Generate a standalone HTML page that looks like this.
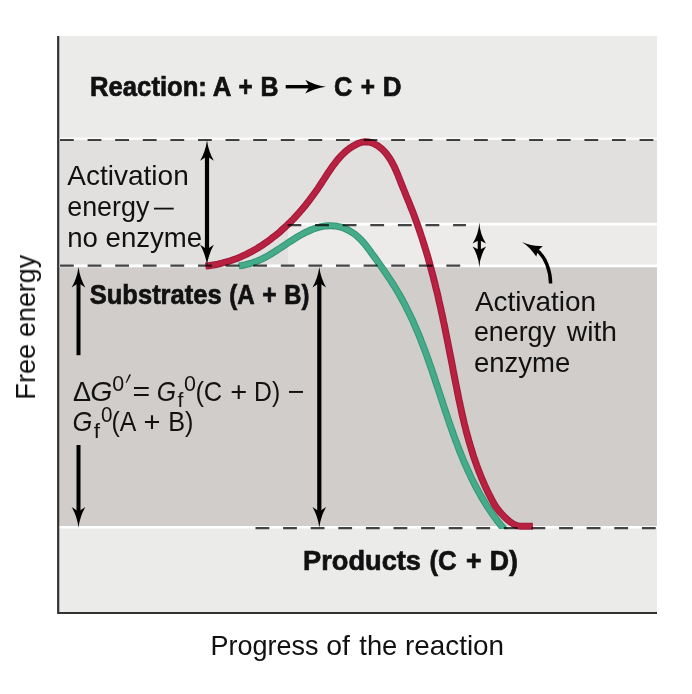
<!DOCTYPE html>
<html><head><meta charset="utf-8"><title>Reaction energy diagram</title>
<style>
html,body{margin:0;padding:0;background:#fff;}
svg{display:block;font-family:"Liberation Sans",sans-serif;fill:#111111;}
</style></head><body>
<svg width="692" height="694" viewBox="0 0 692 694">
<rect x="57" y="36" width="600" height="104" fill="#ebebea"/>
<rect x="57" y="139" width="600" height="127" fill="#e2e0df"/>
<rect x="288" y="224" width="369" height="42" fill="#ecebea"/>
<rect x="57" y="266" width="600" height="262" fill="#d1cdcb"/>
<rect x="57" y="527" width="600" height="86" fill="#ebebea"/>
<line x1="59" y1="138.7" x2="657" y2="138.7" stroke="#fff" stroke-width="2.6" stroke-opacity="0.8"/>
<line x1="288" y1="224.1" x2="657" y2="224.1" stroke="#fff" stroke-width="2.6" stroke-opacity="1"/>
<line x1="59" y1="265.9" x2="657" y2="265.9" stroke="#fff" stroke-width="2.6" stroke-opacity="1"/>
<line x1="59" y1="527.3" x2="657" y2="527.3" stroke="#fff" stroke-width="2.6" stroke-opacity="1"/>
<path d="M58.2 36V613H657" fill="none" stroke="#333333" stroke-width="2.2"/>
<clipPath id="gc"><rect x="0" y="0" width="692" height="528.9"/></clipPath><g clip-path="url(#gc)" fill="none" stroke-linejoin="round"><path d="M238.8 265.9L241.9 265.5L244.8 264.9L247.7 264.2L250.5 263.5L253.3 262.6L255.9 261.6L258.5 260.5L261.1 259.4L263.6 258.1L266.1 256.8L268.5 255.5L271.0 254.0L273.4 252.5L275.8 251.0L278.2 249.4L280.6 247.8L283.1 246.2L285.5 244.6L288.0 242.9L290.5 241.3L293.0 239.7L295.6 238.1L298.1 236.5L300.7 235.0L303.3 233.6L306.0 232.2L308.7 231.0L311.4 229.8L314.2 228.8L317.0 227.8L319.9 227.0L322.8 226.4L325.7 225.9L328.6 225.7L331.5 225.7L334.3 225.9L337.2 226.3L340.0 226.9L342.7 227.8L345.4 228.8L348.0 230.0L350.5 231.5L353.0 233.0L355.4 234.7L357.6 236.6L359.8 238.6L361.9 240.7L363.8 242.9L365.7 245.2L367.5 247.6L369.3 250.0L371.1 252.4L372.8 254.8L374.6 257.2L376.3 259.6L378.0 262.0L379.7 264.4L381.4 266.8L383.1 269.2L384.8 271.7L386.4 274.1L388.0 276.5L389.6 278.9L391.2 281.4L392.8 283.8L394.4 286.3L395.9 288.8L397.4 291.3L398.9 293.8L400.3 296.3L401.7 298.8L403.1 301.4L404.5 303.9L405.8 306.5L407.1 309.1L408.4 311.7L409.7 314.3L410.9 316.9L412.2 319.6L413.4 322.2L414.5 324.9L415.7 327.5L416.8 330.2L418.0 332.9L419.1 335.6L420.2 338.3L421.2 341.0L422.3 343.7L423.3 346.4L424.4 349.2L425.4 351.9L426.4 354.6L427.4 357.4L428.4 360.2L429.3 362.9L430.3 365.7L431.3 368.5L432.2 371.2L433.1 374.0L434.1 376.8L435.0 379.6L435.9 382.4L436.9 385.2L437.8 387.9L438.7 390.7L439.6 393.5L440.5 396.3L441.5 399.1L442.4 401.9L443.3 404.7L444.2 407.5L445.1 410.3L446.1 413.0L447.0 415.8L447.9 418.6L448.9 421.4L449.8 424.2L450.8 426.9L451.8 429.7L452.7 432.4L453.7 435.2L454.7 437.9L455.7 440.7L456.8 443.4L457.8 446.1L458.8 448.9L459.9 451.6L461.0 454.3L462.1 457.0L463.2 459.7L464.3 462.3L465.5 465.0L466.7 467.7L467.8 470.3L469.1 472.9L470.3 475.6L471.5 478.2L472.8 480.8L474.1 483.4L475.4 485.9L476.8 488.5L478.2 491.0L479.6 493.6L481.0 496.1L482.5 498.6L484.0 501.1L485.5 503.5L487.0 506.0L488.6 508.4L490.2 510.8L491.9 513.2L493.5 515.6L495.3 518.0L497.0 520.3L498.8 522.7L500.6 525.0L502.5 527.3L504.4 529.5L506.3 531.8" stroke="#35977a" stroke-width="7"/><path d="M238.8 265.9L241.9 265.5L244.8 264.9L247.7 264.2L250.5 263.5L253.3 262.6L255.9 261.6L258.5 260.5L261.1 259.4L263.6 258.1L266.1 256.8L268.5 255.5L271.0 254.0L273.4 252.5L275.8 251.0L278.2 249.4L280.6 247.8L283.1 246.2L285.5 244.6L288.0 242.9L290.5 241.3L293.0 239.7L295.6 238.1L298.1 236.5L300.7 235.0L303.3 233.6L306.0 232.2L308.7 231.0L311.4 229.8L314.2 228.8L317.0 227.8L319.9 227.0L322.8 226.4L325.7 225.9L328.6 225.7L331.5 225.7L334.3 225.9L337.2 226.3L340.0 226.9L342.7 227.8L345.4 228.8L348.0 230.0L350.5 231.5L353.0 233.0L355.4 234.7L357.6 236.6L359.8 238.6L361.9 240.7L363.8 242.9L365.7 245.2L367.5 247.6L369.3 250.0L371.1 252.4L372.8 254.8L374.6 257.2L376.3 259.6L378.0 262.0L379.7 264.4L381.4 266.8L383.1 269.2L384.8 271.7L386.4 274.1L388.0 276.5L389.6 278.9L391.2 281.4L392.8 283.8L394.4 286.3L395.9 288.8L397.4 291.3L398.9 293.8L400.3 296.3L401.7 298.8L403.1 301.4L404.5 303.9L405.8 306.5L407.1 309.1L408.4 311.7L409.7 314.3L410.9 316.9L412.2 319.6L413.4 322.2L414.5 324.9L415.7 327.5L416.8 330.2L418.0 332.9L419.1 335.6L420.2 338.3L421.2 341.0L422.3 343.7L423.3 346.4L424.4 349.2L425.4 351.9L426.4 354.6L427.4 357.4L428.4 360.2L429.3 362.9L430.3 365.7L431.3 368.5L432.2 371.2L433.1 374.0L434.1 376.8L435.0 379.6L435.9 382.4L436.9 385.2L437.8 387.9L438.7 390.7L439.6 393.5L440.5 396.3L441.5 399.1L442.4 401.9L443.3 404.7L444.2 407.5L445.1 410.3L446.1 413.0L447.0 415.8L447.9 418.6L448.9 421.4L449.8 424.2L450.8 426.9L451.8 429.7L452.7 432.4L453.7 435.2L454.7 437.9L455.7 440.7L456.8 443.4L457.8 446.1L458.8 448.9L459.9 451.6L461.0 454.3L462.1 457.0L463.2 459.7L464.3 462.3L465.5 465.0L466.7 467.7L467.8 470.3L469.1 472.9L470.3 475.6L471.5 478.2L472.8 480.8L474.1 483.4L475.4 485.9L476.8 488.5L478.2 491.0L479.6 493.6L481.0 496.1L482.5 498.6L484.0 501.1L485.5 503.5L487.0 506.0L488.6 508.4L490.2 510.8L491.9 513.2L493.5 515.6L495.3 518.0L497.0 520.3L498.8 522.7L500.6 525.0L502.5 527.3L504.4 529.5L506.3 531.8" stroke="#45ab89" stroke-width="4.8"/></g>
<g fill="none" stroke-linejoin="round"><path d="M205.6 266.0L208.7 265.7L211.7 265.2L214.8 264.7L217.8 264.2L220.8 263.5L223.7 262.7L226.7 261.9L229.6 261.0L232.5 260.0L235.4 259.0L238.3 257.9L241.1 256.7L243.9 255.4L246.7 254.1L249.4 252.7L252.1 251.3L254.8 249.7L257.5 248.2L260.1 246.5L262.7 244.9L265.2 243.1L267.8 241.3L270.3 239.5L272.7 237.6L275.2 235.7L277.6 233.8L279.9 231.8L282.2 229.7L284.5 227.6L286.8 225.5L289.0 223.4L291.2 221.2L293.3 219.1L295.4 216.8L297.4 214.6L299.5 212.3L301.5 210.0L303.4 207.7L305.3 205.4L307.2 203.0L309.1 200.6L310.9 198.2L312.7 195.7L314.5 193.2L316.3 190.7L318.1 188.2L319.8 185.6L321.5 183.0L323.2 180.4L324.9 177.8L326.6 175.1L328.3 172.5L330.1 169.9L331.9 167.3L333.7 164.8L335.6 162.3L337.5 159.9L339.5 157.6L341.6 155.3L343.8 153.2L346.1 151.1L348.5 149.2L351.0 147.4L353.6 145.8L356.4 144.3L359.3 143.0L362.2 142.1L365.2 141.7L368.2 141.9L371.2 142.6L374.1 143.7L376.8 145.2L379.3 146.9L381.7 148.8L383.8 150.9L385.9 153.2L387.7 155.6L389.5 158.1L391.1 160.8L392.6 163.5L394.1 166.3L395.4 169.2L396.7 172.2L398.0 175.2L399.2 178.2L400.4 181.2L401.5 184.2L402.7 187.1L403.9 190.0L405.1 192.9L406.2 195.8L407.4 198.7L408.6 201.5L409.7 204.3L410.8 207.2L412.0 210.0L413.1 212.8L414.2 215.7L415.2 218.5L416.3 221.4L417.3 224.2L418.3 227.1L419.3 230.0L420.3 232.9L421.2 235.7L422.2 238.6L423.1 241.5L424.0 244.4L424.9 247.3L425.8 250.2L426.7 253.2L427.6 256.1L428.4 259.0L429.2 262.0L430.0 264.9L430.8 267.8L431.6 270.8L432.4 273.7L433.2 276.7L433.9 279.7L434.7 282.6L435.4 285.6L436.1 288.6L436.9 291.5L437.6 294.5L438.3 297.5L438.9 300.5L439.6 303.5L440.3 306.5L441.0 309.5L441.6 312.5L442.3 315.5L442.9 318.5L443.5 321.5L444.2 324.5L444.8 327.5L445.4 330.6L446.0 333.6L446.6 336.6L447.2 339.6L447.8 342.6L448.4 345.7L449.0 348.7L449.6 351.7L450.2 354.8L450.8 357.8L451.4 360.8L452.0 363.9L452.6 366.9L453.1 369.9L453.7 373.0L454.3 376.0L454.9 379.1L455.5 382.1L456.1 385.1L456.7 388.2L457.3 391.2L457.9 394.2L458.5 397.3L459.1 400.3L459.8 403.3L460.4 406.3L461.1 409.3L461.7 412.4L462.4 415.4L463.1 418.4L463.8 421.4L464.5 424.3L465.3 427.3L466.0 430.3L466.8 433.3L467.6 436.2L468.4 439.2L469.2 442.1L470.1 445.1L471.0 448.0L471.9 450.9L472.8 453.9L473.7 456.8L474.7 459.7L475.7 462.5L476.7 465.4L477.8 468.3L478.8 471.1L480.0 474.0L481.1 476.8L482.3 479.6L483.5 482.4L484.7 485.2L486.0 488.0L487.3 490.7L488.6 493.5L490.0 496.2L491.4 498.9L492.9 501.6L494.3 504.3C498.0 510.8 511.5 526.2 520 526.2L532.8 526.2" stroke="#a01a3c" stroke-width="7"/><path d="M205.6 266.0L208.7 265.7L211.7 265.2L214.8 264.7L217.8 264.2L220.8 263.5L223.7 262.7L226.7 261.9L229.6 261.0L232.5 260.0L235.4 259.0L238.3 257.9L241.1 256.7L243.9 255.4L246.7 254.1L249.4 252.7L252.1 251.3L254.8 249.7L257.5 248.2L260.1 246.5L262.7 244.9L265.2 243.1L267.8 241.3L270.3 239.5L272.7 237.6L275.2 235.7L277.6 233.8L279.9 231.8L282.2 229.7L284.5 227.6L286.8 225.5L289.0 223.4L291.2 221.2L293.3 219.1L295.4 216.8L297.4 214.6L299.5 212.3L301.5 210.0L303.4 207.7L305.3 205.4L307.2 203.0L309.1 200.6L310.9 198.2L312.7 195.7L314.5 193.2L316.3 190.7L318.1 188.2L319.8 185.6L321.5 183.0L323.2 180.4L324.9 177.8L326.6 175.1L328.3 172.5L330.1 169.9L331.9 167.3L333.7 164.8L335.6 162.3L337.5 159.9L339.5 157.6L341.6 155.3L343.8 153.2L346.1 151.1L348.5 149.2L351.0 147.4L353.6 145.8L356.4 144.3L359.3 143.0L362.2 142.1L365.2 141.7L368.2 141.9L371.2 142.6L374.1 143.7L376.8 145.2L379.3 146.9L381.7 148.8L383.8 150.9L385.9 153.2L387.7 155.6L389.5 158.1L391.1 160.8L392.6 163.5L394.1 166.3L395.4 169.2L396.7 172.2L398.0 175.2L399.2 178.2L400.4 181.2L401.5 184.2L402.7 187.1L403.9 190.0L405.1 192.9L406.2 195.8L407.4 198.7L408.6 201.5L409.7 204.3L410.8 207.2L412.0 210.0L413.1 212.8L414.2 215.7L415.2 218.5L416.3 221.4L417.3 224.2L418.3 227.1L419.3 230.0L420.3 232.9L421.2 235.7L422.2 238.6L423.1 241.5L424.0 244.4L424.9 247.3L425.8 250.2L426.7 253.2L427.6 256.1L428.4 259.0L429.2 262.0L430.0 264.9L430.8 267.8L431.6 270.8L432.4 273.7L433.2 276.7L433.9 279.7L434.7 282.6L435.4 285.6L436.1 288.6L436.9 291.5L437.6 294.5L438.3 297.5L438.9 300.5L439.6 303.5L440.3 306.5L441.0 309.5L441.6 312.5L442.3 315.5L442.9 318.5L443.5 321.5L444.2 324.5L444.8 327.5L445.4 330.6L446.0 333.6L446.6 336.6L447.2 339.6L447.8 342.6L448.4 345.7L449.0 348.7L449.6 351.7L450.2 354.8L450.8 357.8L451.4 360.8L452.0 363.9L452.6 366.9L453.1 369.9L453.7 373.0L454.3 376.0L454.9 379.1L455.5 382.1L456.1 385.1L456.7 388.2L457.3 391.2L457.9 394.2L458.5 397.3L459.1 400.3L459.8 403.3L460.4 406.3L461.1 409.3L461.7 412.4L462.4 415.4L463.1 418.4L463.8 421.4L464.5 424.3L465.3 427.3L466.0 430.3L466.8 433.3L467.6 436.2L468.4 439.2L469.2 442.1L470.1 445.1L471.0 448.0L471.9 450.9L472.8 453.9L473.7 456.8L474.7 459.7L475.7 462.5L476.7 465.4L477.8 468.3L478.8 471.1L480.0 474.0L481.1 476.8L482.3 479.6L483.5 482.4L484.7 485.2L486.0 488.0L487.3 490.7L488.6 493.5L490.0 496.2L491.4 498.9L492.9 501.6L494.3 504.3C498.0 510.8 511.5 526.2 520 526.2L532.8 526.2" stroke="#b92140" stroke-width="4.8"/></g>
<g style="mix-blend-mode:multiply">
<line x1="60" y1="140" x2="657" y2="140" stroke="#444444" stroke-width="2.2" stroke-dasharray="13.8 13.8" stroke-dashoffset="0"/>
<line x1="287.5" y1="225.2" x2="466" y2="225.2" stroke="#444444" stroke-width="2.2" stroke-dasharray="13.8 13.8" stroke-dashoffset="0"/>
<line x1="60" y1="265.7" x2="461" y2="265.7" stroke="#444444" stroke-width="2.2" stroke-dasharray="13.8 13.8" stroke-dashoffset="0"/>
<line x1="255.5" y1="528.2" x2="657" y2="528.2" stroke="#444444" stroke-width="2.2" stroke-dasharray="13.8 13.8" stroke-dashoffset="0"/>
</g>
<line x1="207" y1="154.2" x2="207" y2="251.3" stroke="#000" stroke-width="4.2"/>
<path d="M0 0Q-11.28 -1.51 -20.50 -6.85L-16.00 0L-20.50 6.85Q-11.28 1.51 0 0Z" transform="translate(207 140.2) rotate(-90)" fill="#000"/>
<path d="M0 0Q-11.28 -1.51 -20.50 -6.85L-16.00 0L-20.50 6.85Q-11.28 1.51 0 0Z" transform="translate(207 265.3) rotate(90)" fill="#000"/>
<line x1="319.3" y1="281" x2="319.3" y2="513.5" stroke="#000" stroke-width="4.2"/>
<path d="M0 0Q-11.28 -1.51 -20.50 -6.85L-16.00 0L-20.50 6.85Q-11.28 1.51 0 0Z" transform="translate(319.3 267) rotate(-90)" fill="#000"/>
<path d="M0 0Q-11.28 -1.51 -20.50 -6.85L-16.00 0L-20.50 6.85Q-11.28 1.51 0 0Z" transform="translate(319.3 527.5) rotate(90)" fill="#000"/>
<line x1="78.5" y1="281" x2="78.5" y2="355.2" stroke="#000" stroke-width="4"/>
<path d="M0 0Q-11.28 -1.51 -20.50 -6.85L-16.00 0L-20.50 6.85Q-11.28 1.51 0 0Z" transform="translate(78.5 267) rotate(-90)" fill="#000"/>
<line x1="78.5" y1="445" x2="78.5" y2="513.5" stroke="#000" stroke-width="4"/>
<path d="M0 0Q-11.28 -1.51 -20.50 -6.85L-16.00 0L-20.50 6.85Q-11.28 1.51 0 0Z" transform="translate(78.5 527.5) rotate(90)" fill="#000"/>
<line x1="479.3" y1="236.4" x2="479.3" y2="253.5" stroke="#000" stroke-width="3.2"/>
<path d="M0 0Q-11.55 -0.67 -21.00 -6.70L-17.50 0L-21.00 6.70Q-11.55 0.67 0 0Z" transform="translate(479.3 222.4) rotate(-90)" fill="#000"/>
<path d="M0 0Q-11.55 -0.67 -21.00 -6.70L-17.50 0L-21.00 6.70Q-11.55 0.67 0 0Z" transform="translate(479.3 267.5) rotate(90)" fill="#000"/>
<path d="M550.6 283.5C550.6 272 546 256 535.5 249.3" fill="none" stroke="#000" stroke-width="3.4"/>
<path d="M521.9 241.9C529 245 536 246.5 542.8 245.9L538 250.5L536.2 256.7C533 251 528 246 521.9 241.9Z" fill="#000"/>
<line x1="285.7" y1="86.7" x2="312" y2="86.7" stroke="#000" stroke-width="3.4"/>
<path d="M0 0Q-11.33 -1.52 -20.60 -6.90L-16.50 0L-20.60 6.90Q-11.33 1.52 0 0Z" transform="translate(325.9 86.7) rotate(0)" fill="#000"/>
<g opacity="0.999">
<text x="90.08" y="95.6" font-size="28.4" textLength="116.84" lengthAdjust="spacingAndGlyphs" stroke="#111111" stroke-width="0.7" font-weight="700">Reaction:</text>
<text x="212.8" y="95.6" font-size="28.4" textLength="18.65" lengthAdjust="spacingAndGlyphs" stroke="#111111" stroke-width="0.7" font-weight="700">A</text>
<text x="238.48" y="95.6" font-size="28.4" textLength="14.22" lengthAdjust="spacingAndGlyphs" stroke="#111111" stroke-width="0.7" font-weight="700">+</text>
<text x="260.53" y="95.6" font-size="28.4" textLength="18.0" lengthAdjust="spacingAndGlyphs" stroke="#111111" stroke-width="0.7" font-weight="700">B</text>
<text x="333.94" y="95.6" font-size="28.4" textLength="18.3" lengthAdjust="spacingAndGlyphs" stroke="#111111" stroke-width="0.7" font-weight="700">C</text>
<text x="360.68" y="95.6" font-size="28.4" textLength="14.22" lengthAdjust="spacingAndGlyphs" stroke="#111111" stroke-width="0.7" font-weight="700">+</text>
<text x="382.66" y="95.6" font-size="28.4" textLength="18.79" lengthAdjust="spacingAndGlyphs" stroke="#111111" stroke-width="0.7" font-weight="700">D</text>
<text x="67.3" y="185.3" font-size="27.8" textLength="121.44" lengthAdjust="spacingAndGlyphs" stroke="#111111" stroke-width="0">Activation</text>
<text x="67.22" y="216.2" font-size="27.8" textLength="82.21" lengthAdjust="spacingAndGlyphs" stroke="#111111" stroke-width="0">energy</text>
<line x1="154" y1="208.6" x2="173.7" y2="208.6" stroke="#111111" stroke-width="1.8"/>
<text x="67.21" y="247.3" font-size="27.8" textLength="134.98" lengthAdjust="spacingAndGlyphs" stroke="#111111" stroke-width="0">no enzyme</text>
<text x="89.78" y="303.5" font-size="28.4" textLength="131.85" lengthAdjust="spacingAndGlyphs" stroke="#111111" stroke-width="0.7" font-weight="700">Substrates</text>
<text x="229.24" y="303.5" font-size="28.4" textLength="25.52" lengthAdjust="spacingAndGlyphs" stroke="#111111" stroke-width="0.7" font-weight="700">(A</text>
<text x="262.26" y="303.5" font-size="28.4" textLength="14.46" lengthAdjust="spacingAndGlyphs" stroke="#111111" stroke-width="0.7" font-weight="700">+</text>
<text x="284.3" y="303.5" font-size="28.4" textLength="25.15" lengthAdjust="spacingAndGlyphs" stroke="#111111" stroke-width="0.7" font-weight="700">B)</text>
<text x="303.08" y="569.7" font-size="28.4" textLength="117.93" lengthAdjust="spacingAndGlyphs" stroke="#111111" stroke-width="0.7" font-weight="700">Products</text>
<text x="429.46" y="569.7" font-size="28.4" textLength="27.24" lengthAdjust="spacingAndGlyphs" stroke="#111111" stroke-width="0.7" font-weight="700">(C</text>
<text x="465.99" y="569.7" font-size="28.4" textLength="15.5" lengthAdjust="spacingAndGlyphs" stroke="#111111" stroke-width="0.7" font-weight="700">+</text>
<text x="489.71" y="569.7" font-size="28.4" textLength="28.18" lengthAdjust="spacingAndGlyphs" stroke="#111111" stroke-width="0.7" font-weight="700">D)</text>
<text x="474.9" y="310.5" font-size="27.8" textLength="121.23" lengthAdjust="spacingAndGlyphs" stroke="#111111" stroke-width="0">Activation</text>
<text x="473.93" y="341.3" font-size="27.8" textLength="82.01" lengthAdjust="spacingAndGlyphs" stroke="#111111" stroke-width="0">energy</text>
<text x="566.8" y="341.3" font-size="27.8" textLength="50.13" lengthAdjust="spacingAndGlyphs" stroke="#111111" stroke-width="0">with</text>
<text x="473.9" y="372.1" font-size="27.8" textLength="96.38" lengthAdjust="spacingAndGlyphs" stroke="#111111" stroke-width="0">enzyme</text>
<text x="210.44" y="655.3" font-size="27.8" textLength="107.95" lengthAdjust="spacingAndGlyphs" stroke="#111111" stroke-width="0">Progress</text>
<text x="326.16" y="655.3" font-size="27.8" textLength="23.71" lengthAdjust="spacingAndGlyphs" stroke="#111111" stroke-width="0">of</text>
<text x="359.29" y="655.3" font-size="27.8" textLength="38.05" lengthAdjust="spacingAndGlyphs" stroke="#111111" stroke-width="0">the</text>
<text x="404.99" y="655.3" font-size="27.8" textLength="99.1" lengthAdjust="spacingAndGlyphs" stroke="#111111" stroke-width="0">reaction</text>
<g transform="translate(35 397.5) rotate(-90)">
<text x="-2.17" y="0" font-size="27.8" textLength="55.83" lengthAdjust="spacingAndGlyphs" stroke="#111111" stroke-width="0">Free</text>
<text x="60.53" y="0" font-size="27.8" textLength="82.11" lengthAdjust="spacingAndGlyphs" stroke="#111111" stroke-width="0">energy</text>
</g>
<text x="73.09" y="400.5" font-size="27.8" textLength="18.07" lengthAdjust="spacingAndGlyphs" stroke="#111111" stroke-width="0">Δ</text>
<text x="90.18" y="400.5" font-size="27.8" textLength="22.14" lengthAdjust="spacingAndGlyphs" stroke="#111111" stroke-width="0" font-style="italic">G</text>
<text x="112.14" y="390.7" font-size="21.5" textLength="11.93" lengthAdjust="spacingAndGlyphs" stroke="#111111" stroke-width="0">0</text>
<path d="M129.3 374.2L131 374.8L126.6 383L125.7 382.6Z" fill="#111111"/>
<text x="132.48" y="400.5" font-size="27.8" textLength="17.7" lengthAdjust="spacingAndGlyphs" stroke="#111111" stroke-width="0">=</text>
<text x="156.76" y="400.5" font-size="27.8" textLength="19.3" lengthAdjust="spacingAndGlyphs" stroke="#111111" stroke-width="0" font-style="italic">G</text>
<text x="177.48" y="407.4" font-size="19.5" textLength="5.87" lengthAdjust="spacingAndGlyphs" stroke="#111111" stroke-width="0">f</text>
<text x="184.04" y="390.7" font-size="21.5" textLength="11.93" lengthAdjust="spacingAndGlyphs" stroke="#111111" stroke-width="0">0</text>
<text x="195.38" y="400.5" font-size="27.8" textLength="26.82" lengthAdjust="spacingAndGlyphs" stroke="#111111" stroke-width="0">(C</text>
<text x="230.25" y="400.5" font-size="27.8" textLength="16.98" lengthAdjust="spacingAndGlyphs" stroke="#111111" stroke-width="0">+</text>
<text x="254.12" y="400.5" font-size="27.8" textLength="26.09" lengthAdjust="spacingAndGlyphs" stroke="#111111" stroke-width="0">D)</text>
<text x="287.56" y="400.5" font-size="27.8" textLength="16.86" lengthAdjust="spacingAndGlyphs" stroke="#111111" stroke-width="0">−</text>
<text x="72.62" y="431.3" font-size="27.8" textLength="19.87" lengthAdjust="spacingAndGlyphs" stroke="#111111" stroke-width="0" font-style="italic">G</text>
<text x="93.86" y="438.2" font-size="19.5" textLength="6.29" lengthAdjust="spacingAndGlyphs" stroke="#111111" stroke-width="0">f</text>
<text x="100.88" y="421.5" font-size="21.5" textLength="11.47" lengthAdjust="spacingAndGlyphs" stroke="#111111" stroke-width="0">0</text>
<text x="111.51" y="431.3" font-size="27.8" textLength="24.9" lengthAdjust="spacingAndGlyphs" stroke="#111111" stroke-width="0">(A</text>
<text x="143.45" y="431.3" font-size="27.8" textLength="16.98" lengthAdjust="spacingAndGlyphs" stroke="#111111" stroke-width="0">+</text>
<text x="168.28" y="431.3" font-size="27.8" textLength="25.27" lengthAdjust="spacingAndGlyphs" stroke="#111111" stroke-width="0">B)</text>
</g>
</svg>
</body></html>
